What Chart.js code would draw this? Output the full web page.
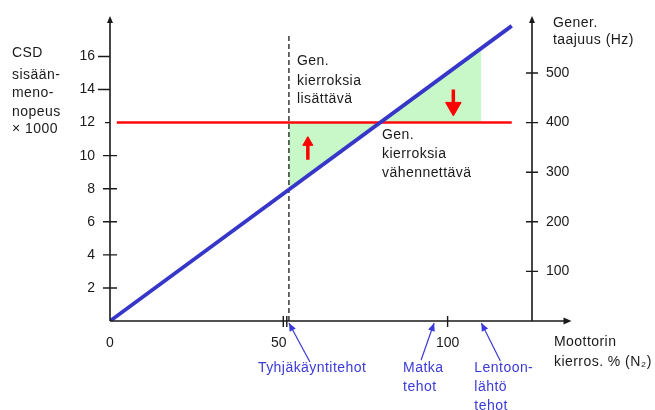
<!DOCTYPE html>
<html>
<head>
<meta charset="utf-8">
<script src="https://cdn.jsdelivr.net/npm/chart.js@4.4.1/dist/chart.umd.min.js"></script>
<style>
  html, body { margin: 0; padding: 0; background: #fff; }
  #wrap { width: 655px; height: 410px; position: relative; }
</style>
</head>
<body>
<div id="wrap"><canvas id="chart"></canvas></div>
<script>
// engine N2 % on x, CSD input speed (x1000) on left, generator Hz on right
const xTicks = [0, 50, 100];
const leftTicks = [2, 4, 6, 8, 10, 12, 14, 16];
const hzTicks = [100, 200, 300, 400, 500];

const speedLine = [{ x: 0, y: 0 }, { x: 119, y: 17.85 }];
const targetLine = [{ x: 2, y: 12 }, { x: 119, y: 12 }];
const idleLine = [{ x: 53, y: 0 }, { x: 53, y: 17.4 }];
const shadeSpeed = [{ x: 53, y: 7.95 }, { x: 80, y: 12 }, { x: 110, y: 16.5 }];
const shadeTarget = [{ x: 53, y: 12 }, { x: 110, y: 12 }];
const arrowUp = [{ x: 58.6, y: 9.75 }, { x: 58.6, y: 10.8 }];
const arrowDown = [{ x: 101.7, y: 14.0 }, { x: 101.7, y: 12.95 }];

const powerMarks = [
  { at: 53, text: ['Tyhjäkäyntitehot'] },
  { at: 96, text: ['Matka', 'tehot'] },
  { at: 110, text: ['Lentoon-', 'lähtö', 'tehot'] },
];

const FONT = '14px "Liberation Sans", Arial, sans-serif';
const INK = '#1a1a1a';
const BLUE = '#3a3ad8';

// label offsets (px) for the blue markers: tail of arrow and text left edge
const markStyle = [
  { tail: [21, 39], textX: -31 },
  { tail: [-13, 37], textX: -31 },
  { tail: [19, 38], textX: -7 },
];

function head(ctx, tx, ty, fx, fy, len, half) {
  const a = Math.atan2(ty - fy, tx - fx);
  ctx.beginPath();
  ctx.moveTo(tx, ty);
  ctx.lineTo(tx - len * Math.cos(a) + half * Math.sin(a), ty - len * Math.sin(a) - half * Math.cos(a));
  ctx.lineTo(tx - len * Math.cos(a) - half * Math.sin(a), ty - len * Math.sin(a) + half * Math.cos(a));
  ctx.closePath();
  ctx.fill();
}

const sketch = {
  id: 'sketch',
  afterDraw(chart) {
    const { ctx } = chart;
    const { x, y, y2 } = chart.scales;
    const ox = x.getPixelForValue(0);
    const oy = y.getPixelForValue(0);
    const rx = x.getPixelForValue(x.max);
    const topY = y.getPixelForValue(18.45);
    const endX = x.getPixelForValue(136.7);

    ctx.save();
    ctx.strokeStyle = INK;
    ctx.fillStyle = INK;
    ctx.lineWidth = 1.6;

    // axis lines
    ctx.beginPath();
    ctx.moveTo(ox, oy); ctx.lineTo(ox, topY + 4);
    ctx.moveTo(rx, oy); ctx.lineTo(rx, topY + 4);
    ctx.moveTo(ox, oy); ctx.lineTo(endX - 4, oy);
    ctx.stroke();
    head(ctx, ox, topY, ox, oy, 7, 3);
    head(ctx, rx, topY, rx, oy, 7, 3);
    head(ctx, endX, oy, ox, oy, 8, 3.5);

    // tick marks
    ctx.lineWidth = 1.4;
    ctx.beginPath();
    leftTicks.forEach(v => {
      const py = y.getPixelForValue(v);
      const a = v > 12 ? 12 : v === 12 ? 5 : 7;
      const b = v >= 12 ? 0 : 7;
      ctx.moveTo(ox - a, py); ctx.lineTo(ox + b, py);
    });
    hzTicks.forEach(v => {
      const py = y2.getPixelForValue(v);
      ctx.moveTo(rx - 6, py); ctx.lineTo(rx + 6, py);
    });
    xTicks.slice(1).forEach(v => {
      const px = x.getPixelForValue(v) + (v === 50 ? 4.5 : 0);
      ctx.moveTo(px, oy - 5); ctx.lineTo(px, oy + 6);
      if (v === 50) { ctx.moveTo(px + 3.5, oy - 5); ctx.lineTo(px + 3.5, oy + 6); }
    });
    ctx.stroke();

    // texts
    ctx.font = FONT;
    ctx.letterSpacing = '0.45px';
    ctx.textBaseline = 'middle';
    ctx.textAlign = 'left';
    const lines = (arr, lx, ys) => arr.forEach((t, i) => ctx.fillText(t, lx, ys[i]));
    lines(['CSD', 'sisään-', 'meno-', 'nopeus', '× 1000'], 12, [53, 75, 93, 112, 129]);
    lines(['Gener.', 'taajuus (Hz)'], 553, [23, 40]);
    lines(['Gen.', 'kierroksia', 'lisättävä'], 297, [61, 81, 99]);
    lines(['Gen.', 'kierroksia', 'vähennettävä'], 382, [135, 154, 173]);
    lines(['Moottorin', 'kierros. % (N₂)'], 554, [342, 362]);

    // blue power markers
    ctx.strokeStyle = BLUE;
    ctx.fillStyle = BLUE;
    ctx.lineWidth = 1.2;
    powerMarks.forEach((m, i) => {
      const st = markStyle[i];
      const hx = x.getPixelForValue(m.at);
      const hy = oy + 2;
      const tx = hx + st.tail[0], ty = hy + st.tail[1];
      ctx.beginPath();
      ctx.moveTo(tx, ty); ctx.lineTo(hx, hy);
      ctx.stroke();
      head(ctx, hx, hy, tx, ty, 8, 3.5);
      lines(m.text, hx + st.textX, [368, 387, 406]);
    });
    ctx.restore();
  }
};

const tickFont = { family: '"Liberation Sans", Arial, sans-serif', size: 14 };

new Chart(document.getElementById('chart'), {
  type: 'line',
  data: {
    datasets: [
      { data: speedLine, borderColor: '#3636c8', borderWidth: 3.8, pointRadius: 0, order: 1 },
      { data: targetLine, borderColor: '#ff0a0a', borderWidth: 2.5, pointRadius: 0, order: 2 },
      { data: idleLine, borderColor: INK, borderWidth: 1.3, borderDash: [5, 3], pointRadius: 0, order: 3 },
      {
        data: arrowUp, borderColor: '#ff0000', borderWidth: 3.5,
        pointRadius: [0, 5.8], pointStyle: 'triangle', pointRotation: [0, 0],
        pointBackgroundColor: '#ff0000', pointBorderColor: '#ff0000', pointBorderWidth: 1, order: 1,
      },
      {
        data: arrowDown, borderColor: '#ff0000', borderWidth: 3.5,
        pointRadius: [0, 9], pointStyle: 'triangle', pointRotation: [0, 180],
        pointBackgroundColor: '#ff0000', pointBorderColor: '#ff0000', pointBorderWidth: 1, order: 1,
      },
      { data: shadeTarget, borderWidth: 0, pointRadius: 0, order: 9 },
      { data: shadeSpeed, borderWidth: 0, pointRadius: 0, fill: 5, backgroundColor: '#c8f8c8', order: 8 },
    ],
  },
  options: {
    responsive: true,
    maintainAspectRatio: false,
    animation: false,
    events: [],
    layout: { padding: { top: 18, left: 0, right: 0, bottom: 0 } },
    plugins: { legend: { display: false }, tooltip: { enabled: false } },
    scales: {
      x: {
        type: 'linear', min: 0, max: 125,
        grid: { display: false, drawTicks: false }, border: { display: false },
        ticks: { font: tickFont, color: INK, padding: 14, maxRotation: 0 },
        afterBuildTicks: s => { s.ticks = xTicks.map(v => ({ value: v })); },
        afterFit: s => { s.height = 89; },
      },
      y: {
        min: 0, max: 18, position: 'left',
        grid: { display: false, drawTicks: false }, border: { display: false },
        ticks: { font: tickFont, color: INK, padding: 15 },
        afterBuildTicks: s => { s.ticks = leftTicks.map(v => ({ value: v })); },
        afterFit: s => { s.width = 110; },
      },
      y2: {
        min: 0, max: 600, position: 'right',
        grid: { display: false, drawTicks: false }, border: { display: false },
        ticks: { font: tickFont, color: INK, padding: 14 },
        afterBuildTicks: s => { s.ticks = hzTicks.map(v => ({ value: v })); },
        afterFit: s => { s.width = 123; },
      },
    },
  },
  plugins: [sketch],
});
</script>
</body>
</html>
